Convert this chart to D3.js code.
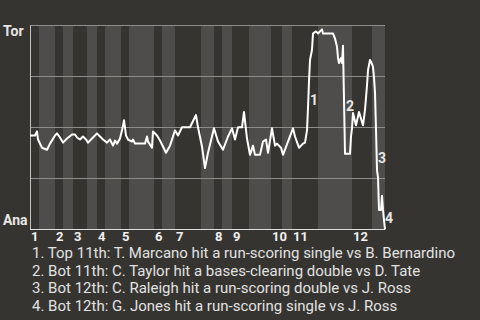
<!DOCTYPE html>
<html>
<head>
<meta charset="utf-8">
<script src="https://cdn.jsdelivr.net/npm/d3@7"></script>
<style>
  html, body { margin: 0; padding: 0; background: #363430; }
  svg { display: block; }
  text { font-family: Roboto, "Noto Sans", sans-serif; }
</style>
</head>
<body>
<svg id="chart" width="480" height="320"></svg>
<script>
// Win probability by pitch, Toronto (top) vs Anaheim (bottom)
const teams = ["Tor", "Ana"];
const totalPitches = 355;

// First pitch of each half inning (top, bottom, top, bottom, ...)
const halfInningStart = [0, 9, 25, 33, 43, 57, 67, 75, 91, 99, 124, 132,
                         145, 171, 184, 192, 202, 219, 241, 252, 262, 288, 322, 342];
const inningLabels = ["1","2","3","4","5","6","7","8","9","10","11","12"];

// Pitch number and Toronto win probability at each turn of the line
const pitch = [0, 5, 7, 8, 12, 17, 20, 25, 27, 30, 33, 37, 42, 45, 47, 50, 53, 56, 58, 62,
  67, 69, 73, 77, 80, 83, 85, 87, 90, 92, 94, 96, 98, 102, 103, 105, 115, 117, 118, 122,
  123, 127, 130, 136, 140, 145, 148, 152, 160, 166, 168, 172, 175, 178, 184, 188, 193, 198, 202, 205,
  208, 212, 214, 217, 220, 223, 225, 230, 233, 236, 238, 242, 245, 247, 251, 253, 258, 263, 265, 269,
  273, 275, 277, 278, 279, 280, 282, 283, 286, 288, 290, 292, 293, 303, 305, 307, 308, 309, 311, 312,
  313, 315, 320, 321, 322, 323, 326, 329, 333, 335, 337, 338, 340, 342, 343, 344, 345, 346, 347, 348,
  349, 351, 352, 353, 354, 355];
const winProb = [0.46, 0.46, 0.48, 0.44, 0.40, 0.39, 0.42, 0.46, 0.47, 0.45, 0.425, 0.445, 0.465, 0.465, 0.45, 0.44, 0.455, 0.44, 0.425, 0.445,
  0.47, 0.46, 0.44, 0.425, 0.44, 0.41, 0.435, 0.42, 0.445, 0.485, 0.535, 0.46, 0.44, 0.43, 0.44, 0.42, 0.42, 0.455, 0.43, 0.40,
  0.48, 0.46, 0.435, 0.375, 0.41, 0.485, 0.46, 0.50, 0.50, 0.56, 0.50, 0.405, 0.30, 0.375, 0.495, 0.43, 0.39, 0.455, 0.495, 0.44,
  0.50, 0.50, 0.575, 0.445, 0.365, 0.41, 0.365, 0.365, 0.43, 0.44, 0.375, 0.495, 0.41, 0.42, 0.40, 0.365, 0.43, 0.495, 0.455, 0.40,
  0.42, 0.425, 0.485, 0.595, 0.725, 0.83, 0.88, 0.96, 0.97, 0.96, 0.97, 0.98, 0.96, 0.96, 0.935, 0.895, 0.84, 0.815, 0.84, 0.815,
  0.90, 0.37, 0.37, 0.455, 0.495, 0.57, 0.51, 0.575, 0.51, 0.585, 0.705, 0.78, 0.83, 0.81, 0.795, 0.745, 0.67, 0.49, 0.29, 0.255,
  0.095, 0.095, 0.165, 0.095, 0.045, 0.0];

// Key plays: pitch where each is marked and the win probability at the label baseline
const keyPitch = [279, 315, 347, 354];
const keyLabelProb = [0.609, 0.582, 0.323, 0.031];
const keyPlays = [
  "1. Top 11th: T. Marcano hit a run-scoring single vs B. Bernardino",
  "2. Bot 11th: C. Taylor hit a bases-clearing double vs D. Tate",
  "3. Bot 12th: C. Raleigh hit a run-scoring double vs J. Ross",
  "4. Bot 12th: G. Jones hit a run-scoring single vs J. Ross"
];
const gridProb = [0.25, 0.5, 0.75, 1];

const svg = d3.select("#chart");
const margin = { left: 30, right: 95, top: 25, bottom: 91 };
const W = 480, H = 320;

const x = d3.scaleLinear().domain([0, totalPitches]).range([margin.left, W - margin.right]);
const y = d3.scaleLinear().domain([0, 1]).range([H - margin.bottom + 0.3, margin.top + 0.3]);

// Half-inning bands: bottom halves are lighter
const bounds = halfInningStart.concat([totalPitches]);
svg.append("g").selectAll("rect")
  .data(halfInningStart)
  .join("rect")
  .attr("x", (d) => x(d))
  .attr("width", (d, i) => x(bounds[i + 1]) - x(d))
  .attr("y", y(1))
  .attr("height", y(0) - y(1))
  .attr("fill", (d, i) => i % 2 ? "#4e4d4b" : "#363430");

// Horizontal grid
svg.append("g").selectAll("line")
  .data(gridProb)
  .join("line")
  .attr("x1", x(0)).attr("x2", x(totalPitches))
  .attr("y1", (d) => Math.round(y(d)) + 0.5).attr("y2", (d) => Math.round(y(d)) + 0.5)
  .attr("stroke", "#8e8d8a").attr("stroke-width", 1);

// Axis lines
svg.append("line")
  .attr("x1", x(0) + 0.5).attr("x2", x(0) + 0.5)
  .attr("y1", y(1)).attr("y2", y(0))
  .attr("stroke", "#c4c3c0").attr("stroke-width", 1);
svg.append("line")
  .attr("x1", x(0)).attr("x2", x(totalPitches))
  .attr("y1", Math.round(y(0)) + 0.5).attr("y2", Math.round(y(0)) + 0.5)
  .attr("stroke", "#dcdcdc").attr("stroke-width", 1);

// Win probability line
const line = d3.line().x((d) => x(d[0])).y((d) => y(d[1]));
svg.append("path")
  .datum(d3.zip(pitch, winProb))
  .attr("d", line)
  .attr("fill", "none")
  .attr("stroke", "#ffffff")
  .attr("stroke-width", 2)
  .attr("stroke-linejoin", "round");

// Key play markers
svg.append("g").selectAll("text")
  .data(keyPitch)
  .join("text")
  .attr("x", (d) => x(d) + 1)
  .attr("y", (d, i) => y(keyLabelProb[i]))
  .attr("font-size", 14).attr("font-weight", "bold")
  .attr("fill", "#e6e6e6")
  .text((d, i) => i + 1);

// Team labels
svg.append("text").attr("x", 3).attr("y", y(1) + 11)
  .attr("font-size", 14).attr("font-weight", "bold").attr("fill", "#e6e6e6")
  .text(teams[0]);
svg.append("text").attr("x", 3).attr("y", y(0) - 4)
  .attr("font-size", 14).attr("font-weight", "bold").attr("fill", "#e6e6e6")
  .text(teams[1]);

// Inning labels at the first pitch of each inning
svg.append("g").selectAll("text")
  .data(inningLabels)
  .join("text")
  .attr("x", (d, i) => x(halfInningStart[i * 2]) + 1)
  .attr("y", y(0) + 12)
  .attr("font-size", 13).attr("font-weight", "bold").attr("fill", "#f0f0f0")
  .text((d) => d);

// Key play descriptions
svg.append("g").selectAll("text")
  .data(keyPlays)
  .join("text")
  .attr("x", 32)
  .attr("y", (d, i) => 258 + i * 17.5)
  .attr("font-size", 15).attr("font-weight", 400).attr("fill", "#e2e2e2")
  .text((d) => d);
</script>
</body>
</html>
